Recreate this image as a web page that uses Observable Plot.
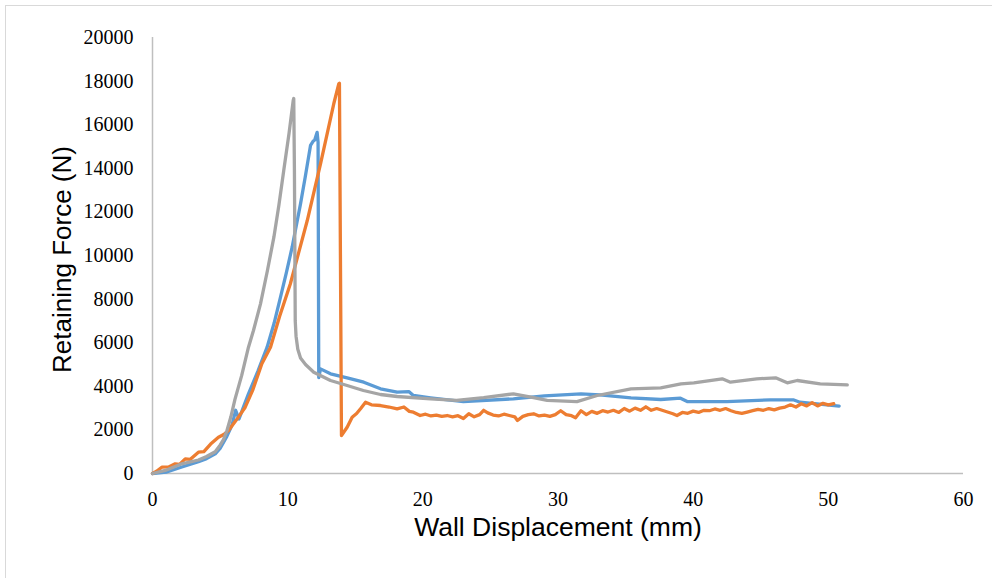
<!DOCTYPE html>
<html>
<head>
<meta charset="utf-8">
<script src="https://cdn.jsdelivr.net/npm/d3@7"></script>
<script src="https://cdn.jsdelivr.net/npm/@observablehq/plot@0.6"></script>
<style>
  html, body { margin: 0; padding: 0; background: #fff; overflow: hidden; }
  #wrap { position: relative; width: 992px; height: 578px; }
  #frame { position: absolute; left: 5px; top: 5px; width: 1200px; height: 800px; border: 1px solid #d9d9d9; box-sizing: border-box; pointer-events: none; }
  #chart { position: absolute; left: 0; top: 0; }
</style>
</head>
<body>
<div id="wrap"><div id="frame"></div><div id="chart"></div></div>
<script>
const xTicks = [0, 10, 20, 30, 40, 50, 60];
const yTicks = [0, 2000, 4000, 6000, 8000, 10000, 12000, 14000, 16000, 18000, 20000];
const seriesNames = ["Blue", "Orange", "Gray"];
const seriesColors = ["#5B9BD5", "#ED7D31", "#A5A5A5"];

const blueX = [0, 1, 2.17, 3.4, 4.0, 4.64, 5.0, 5.5, 5.9, 6.15, 6.4, 6.7, 7.1, 7.8, 8.48, 9.0, 9.47, 9.9, 10.33, 10.95, 11.3, 11.69, 11.89, 12.0, 12.18, 12.25, 12.3, 12.43, 13.17, 14.4, 15.63, 16.87, 18.1, 18.96, 19.3, 20.57, 23.0, 26.7, 29.0, 31.7, 33.1, 35.4, 37.6, 39.06, 39.56, 42.5, 45.7, 47.4, 47.9, 50.8];
const blueY = [0, 60, 300, 540, 680, 900, 1150, 1700, 2250, 2900, 2500, 3000, 3655, 4700, 5793, 6900, 8087, 9200, 10380, 12370, 13600, 15050, 15250, 15300, 15650, 15200, 4400, 4800, 4573, 4390, 4188, 3885, 3730, 3760, 3578, 3472, 3300, 3425, 3560, 3655, 3610, 3472, 3395, 3455, 3300, 3300, 3380, 3380, 3270, 3087];

const grayX = [0, 0.94, 2.17, 3.4, 4.0, 4.64, 5.0, 5.25, 5.5, 5.8, 6.1, 6.6, 7.1, 7.47, 7.99, 8.5, 8.98, 9.35, 9.71, 10.1, 10.41, 10.45, 10.5, 10.56, 10.62, 10.75, 10.95, 11.32, 11.93, 13.17, 14.4, 15.6, 16.87, 18.1, 20.57, 22.5, 24.5, 26.7, 28.0, 29.2, 31.4, 32.9, 35.4, 37.6, 39.1, 40.05, 42.15, 42.76, 44.7, 46.1, 46.96, 47.7, 49.4, 51.4];
const grayY = [0, 140, 445, 620, 780, 1000, 1300, 1550, 1950, 2600, 3400, 4500, 5793, 6560, 7784, 9300, 10840, 12300, 13898, 15600, 17110, 17200, 13900, 7000, 6300, 5700, 5300, 5000, 4647, 4266, 4037, 3807, 3624, 3532, 3426, 3350, 3480, 3655, 3500, 3350, 3300, 3578, 3885, 3930, 4115, 4160, 4343, 4190, 4343, 4390, 4160, 4266, 4115, 4068];

const orangeX = [0, 0.3, 0.69, 1.2, 1.68, 2.0, 2.42, 2.8, 3.4, 3.8, 4.3, 4.88, 5.3, 5.62, 6.2, 6.86, 7.4, 8.09, 8.73, 9.4, 10.2, 10.8, 11.45, 12.43, 13.41, 13.78, 13.83, 13.98, 14.4, 14.77, 15.1, 15.39, 15.76, 16.2, 16.87, 17.5, 18.1, 18.6, 19.0, 19.3,
  19.8, 20.2, 20.6, 21.0, 21.4, 21.8, 22.2, 22.6, 23.0, 23.4, 23.8, 24.2, 24.5, 24.8, 25.2, 25.6, 26.0, 26.4, 26.8, 27.0, 27.4, 27.8, 28.2, 28.6, 29.0, 29.4, 29.8, 30.2, 30.6, 31.0, 31.3, 31.7, 32.1, 32.5, 32.9, 33.3, 33.7, 34.1, 34.5, 34.9, 35.3, 35.7, 36.1, 36.5, 36.9, 37.3, 37.7, 38.1, 38.5, 38.8, 39.2, 39.6, 40.0, 40.4, 40.8, 41.2, 41.6, 42.0, 42.4, 42.8, 43.2, 43.6, 44.0, 44.4, 44.8, 45.2, 45.6, 46.0, 46.4, 46.8, 47.2, 47.6, 48.0, 48.4, 48.8, 49.2, 49.6, 50.0, 50.4];
const orangeY = [0, 100, 290, 300, 445, 420, 674, 650, 977, 1000, 1350, 1665, 1800, 1972, 2450, 3041, 3800, 5032, 5793, 7200, 8702, 10100, 11605, 14206, 16960, 17875, 17900, 1743, 2124, 2583, 2750, 2968, 3270, 3150, 3119, 3050, 2968, 3050, 2850, 2812,
  2660, 2720, 2640, 2680, 2620, 2660, 2600, 2650, 2520, 2740, 2600, 2700, 2900, 2780, 2680, 2640, 2720, 2660, 2600, 2430, 2620, 2700, 2740, 2640, 2680, 2620, 2700, 2880, 2700, 2650, 2560, 2880, 2700, 2850, 2760, 2880, 2820, 2900, 2800, 2980, 2860, 3000, 2900, 3060, 2900, 2980, 2900, 2820, 2740, 2660, 2800, 2760, 2860, 2800, 2900, 2880, 2960, 2900, 2980, 2880, 2800, 2760, 2820, 2880, 2940, 2900, 2980, 2920, 3000, 3050, 3150, 3050, 3200, 3100, 3250, 3100, 3220, 3150, 3200];

const build = (xs, ys) => xs.map((x, i) => ({x, y: ys[i]}));
const blue = build(blueX, blueY);
const orange = build(orangeX, orangeY);
const gray = build(grayX, grayY);

const serif = "'Liberation Serif', 'Times New Roman', serif";
const sans = "'Liberation Sans', Arial, sans-serif";

const chart = Plot.plot({
  width: 992,
  height: 578,
  marginLeft: 152,
  marginRight: 29,
  marginTop: 37,
  marginBottom: 105,
  style: {background: "transparent", fontFamily: serif, color: "#000"},
  x: {domain: [0, 60], ticks: xTicks},
  y: {domain: [0, 20000], ticks: yTicks},
  marks: [
    Plot.axisX({ticks: xTicks, tickSize: 0, tickPadding: 18, fontSize: 20, fontFamily: serif, label: null, tickFormat: d => String(d)}),
    Plot.axisY({ticks: yTicks, tickSize: 0, tickPadding: 19, fontSize: 20, fontFamily: serif, label: null, tickFormat: d => String(d)}),
    Plot.ruleX([0], {stroke: "#bfbfbf", strokeWidth: 1.5}),
    Plot.ruleY([0], {stroke: "#bfbfbf", strokeWidth: 1.5}),
    Plot.line(blue, {x: "x", y: "y", stroke: seriesColors[0], strokeWidth: 3.3, strokeLinejoin: "round", strokeLinecap: "round"}),
    Plot.line(orange, {x: "x", y: "y", stroke: seriesColors[1], strokeWidth: 3.3, strokeLinejoin: "round", strokeLinecap: "round"}),
    Plot.line(gray, {x: "x", y: "y", stroke: seriesColors[2], strokeWidth: 3.3, strokeLinejoin: "round", strokeLinecap: "round"}),
    Plot.text(["Wall Displacement (mm)"], {frameAnchor: "bottom", dy: 62, fontSize: 26.5, fontFamily: sans, fill: "#000"}),
    Plot.text(["Retaining Force (N)"], {frameAnchor: "left", textAnchor: "middle", dx: -90, dy: 4, rotate: -90, fontSize: 26, fontFamily: sans, fill: "#000"})
  ]
});
document.getElementById("chart").appendChild(chart);
</script>
</body>
</html>
